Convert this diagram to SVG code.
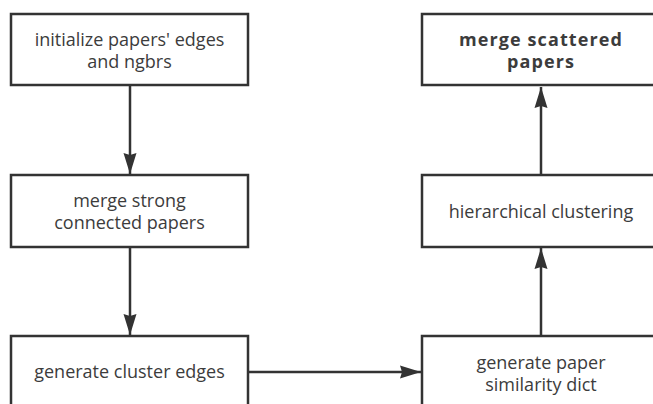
<svg xmlns="http://www.w3.org/2000/svg" width="653" height="404" viewBox="0 0 653 404">
<style>
.box{fill:#fff;stroke:#333;stroke-width:2.5}
.t{font-family:"Open Sans","Noto Sans",sans-serif;font-size:18px;fill:#3c3c3c;text-anchor:middle}
.b{font-weight:bold;letter-spacing:1.1px}
.c{stroke:#333;stroke-width:2.5;fill:none}
</style>
<defs>
<marker id="ah" markerUnits="userSpaceOnUse" markerWidth="24" markerHeight="16" refX="21" refY="7" orient="auto" viewBox="0 0 24 14">
<path d="M0,0.5 L21,7 L0,13.5 L2,7 Z" fill="#333"/>
</marker>
</defs>
<rect width="653" height="404" fill="#fff"/>
<g id="n1"><rect class="box" x="11" y="14" width="237" height="71"/>
<text class="t" x="129.5" y="46">initialize papers' edges</text>
<text class="t" x="129.5" y="68">and ngbrs</text></g>
<g id="n2"><rect class="box" x="11" y="175" width="237" height="72"/>
<text class="t" x="129.5" y="207">merge strong</text>
<text class="t" x="129.5" y="229">connected papers</text></g>
<g id="n3"><rect class="box" x="11" y="336" width="237" height="80"/>
<text class="t" x="129.5" y="378">generate cluster edges</text></g>
<g id="n4"><rect class="box" x="422" y="336" width="238" height="80"/>
<text class="t" x="541" y="369">generate paper</text>
<text class="t" x="541" y="391">similarity dict</text></g>
<g id="n5"><rect class="box" x="422" y="175" width="238" height="72"/>
<text class="t" x="541" y="218">hierarchical clustering</text></g>
<g id="n6"><rect class="box" x="422" y="14" width="238" height="71"/>
<text class="t b" x="541" y="46">merge scattered</text>
<text class="t b" x="541" y="68">papers</text></g>
<g id="connectors">
<line class="c" x1="130" y1="85" x2="130" y2="174" marker-end="url(#ah)"/>
<line class="c" x1="130" y1="247" x2="130" y2="335" marker-end="url(#ah)"/>
<line class="c" x1="248" y1="372" x2="421" y2="372" marker-end="url(#ah)"/>
<line class="c" x1="541" y1="336" x2="541" y2="248" marker-end="url(#ah)"/>
<line class="c" x1="541" y1="175" x2="541" y2="87" marker-end="url(#ah)"/>
</g>
</svg>
